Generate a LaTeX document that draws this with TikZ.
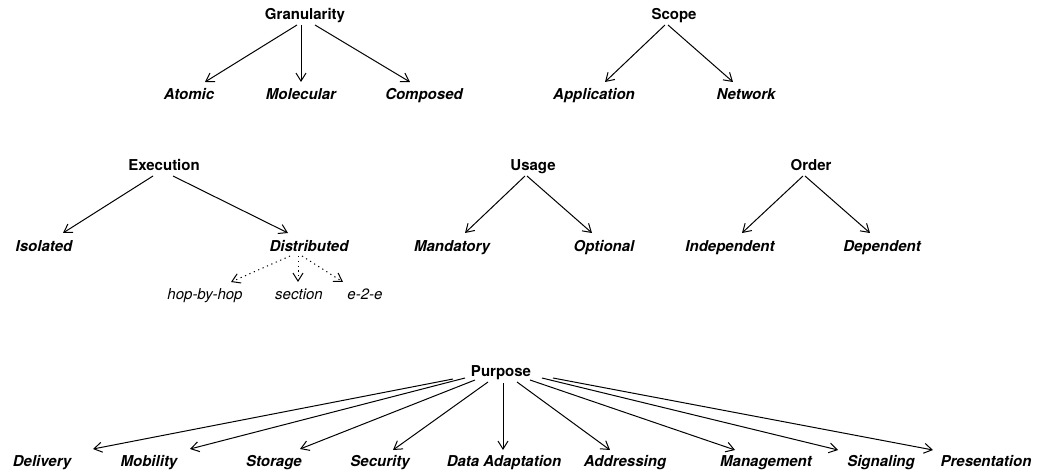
\documentclass[tikz,border=0pt]{standalone}
\usepackage{fontspec}
\setmainfont{TeX Gyre Heros}
\usetikzlibrary{arrows.meta,calc}
\begin{document}
\begin{tikzpicture}[x=1pt,y=-1pt,
  parent/.style={font=\fontsize{15}{18}\selectfont\bfseries, anchor=base, inner sep=0pt},
  child/.style={font=\fontsize{15}{18}\selectfont\bfseries\itshape, anchor=base, inner sep=0pt},
  subitem/.style={font=\fontsize{15}{18}\selectfont\itshape, anchor=base, inner sep=0pt},
  arr/.style={-{Straight Barb[length=8pt,width=10pt]}, line width=1pt},
  darr/.style={arr, dash pattern=on 1.2pt off 3.6pt}]
\useasboundingbox (0,0) rectangle (1046,473);
% Granularity
\node[parent] (gran) at (305,20) {Granularity};
\node[child] (atomic) at (189,100) {Atomic};
\node[child] (molec) at (301,100) {Molecular};
\node[child] (compo) at (424,100) {Composed};
% Scope
\node[parent] (scope) at (674,20) {Scope};
\node[child] (appl) at (594,100) {Application};
\node[child] (netw) at (746,100) {Network};
% Execution
\node[parent] (exec) at (164,171) {Execution};
\node[child] (isol) at (44,251) {Isolated};
\node[child] (distr) at (309,251) {Distributed};
\node[subitem] (hop) at (205,299) {hop-by-hop};
\node[subitem] (sect) at (299,299) {section};
\node[subitem] (e2e) at (365,299) {e-2-e};
% Usage
\node[parent] (usage) at (533,171) {Usage};
\node[child] (mand) at (452,251) {Mandatory};
\node[child] (opt) at (604,251) {Optional};
% Order
\node[parent] (order) at (811,171) {Order};
\node[child] (indep) at (730,251) {Independent};
\node[child] (dep) at (882,251) {Dependent};
% Purpose
\node[parent] (purp) at (501,376) {Purpose};
\node[child] (deliv) at (42,466) {Delivery};
\node[child] (mobil) at (149,466) {Mobility};
\node[child] (stor) at (274,466) {Storage};
\node[child] (secu) at (380,466) {Security};
\node[child] (dada) at (504,466) {Data Adaptation};
\node[child] (addr) at (625,466) {Addressing};
\node[child] (mgmt) at (766,466) {Management};
\node[child] (sign) at (881,466) {Signaling};
\node[child] (pres) at (986,466) {Presentation};
% edges
\draw[arr] ($(gran.base)+(-8,5)$) -- ($(atomic.base)+(16,-18)$);
\draw[arr] ($(gran.base)+(-4,5)$) -- ($(molec.base)+(0,-18)$);
\draw[arr] ($(gran.base)+(10,5)$) -- ($(compo.base)+(-14,-18)$);
\draw[arr] ($(scope.base)+(-9,5)$) -- ($(appl.base)+(11,-18)$);
\draw[arr] ($(scope.base)+(-6,5)$) -- ($(netw.base)+(-13,-18)$);
\draw[arr] ($(exec.base)+(-11,5)$) -- ($(isol.base)+(19,-18)$);
\draw[arr] ($(exec.base)+(9,5)$) -- ($(distr.base)+(-21,-18)$);
\draw[darr] ($(distr.base)+(-19,5)$) -- ($(hop.base)+(26,-17)$);
\draw[darr] ($(distr.base)+(-11,5)$) -- ($(sect.base)+(-1,-17)$);
\draw[darr] ($(distr.base)+(-7,5)$) -- ($(e2e.base)+(-22,-17)$);
\draw[arr] ($(usage.base)+(-8,5)$) -- ($(mand.base)+(13,-18)$);
\draw[arr] ($(usage.base)+(-6,5)$) -- ($(opt.base)+(-12,-18)$);
\draw[arr] ($(order.base)+(-8,5)$) -- ($(indep.base)+(12,-18)$);
\draw[arr] ($(order.base)+(-6,5)$) -- ($(dep.base)+(-12,-18)$);
\draw[arr] ($(purp.base)+(-48,3)$) -- ($(deliv.base)+(51,-17)$);
\draw[arr] ($(purp.base)+(-36,2)$) -- ($(mobil.base)+(41,-17)$);
\draw[arr] ($(purp.base)+(-26,4)$) -- ($(stor.base)+(26,-17)$);
\draw[arr] ($(purp.base)+(-13,6)$) -- ($(secu.base)+(13,-16)$);
\draw[arr] ($(purp.base)+(2,7)$) -- ($(dada.base)+(-1,-16)$);
\draw[arr] ($(purp.base)+(16,6)$) -- ($(addr.base)+(-15,-16)$);
\draw[arr] ($(purp.base)+(29,4)$) -- ($(mgmt.base)+(-31,-16)$);
\draw[arr] ($(purp.base)+(41,2)$) -- ($(sign.base)+(-43,-16)$);
\draw[arr] ($(purp.base)+(52,2)$) -- ($(pres.base)+(-53,-16)$);
\end{tikzpicture}
\end{document}
